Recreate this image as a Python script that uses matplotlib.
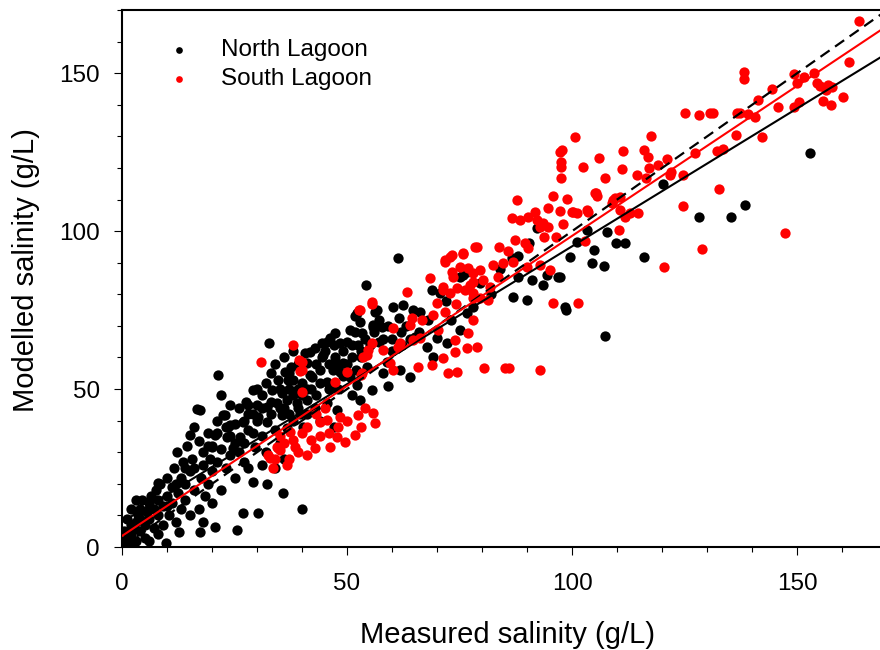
import numpy as np
import matplotlib.pyplot as plt
from matplotlib.ticker import MultipleLocator

plt.rcParams['font.family'] = ['Liberation Sans', 'DejaVu Sans']

# North Lagoon (measured, modelled) in g/L
north = [
    (0.5,1),(1,2.5),(1.5,0.5),(2,4),(2.5,6),(3,2),(3,8),(3.5,10),(4,5),(4,12),(4.5,15),(5,7),(5,3),
    (5.5,11),(6,14),(6,9),(6.5,16),(7,6),(7,12),(7.5,18),(8,10),(8,15),(8.5,20),(9,7),(9,13),(9.8,1.3),
    (10,16),(10,22),(1,9),(2,12),(3,15),(0.5,5),(6,2),(8,4),(2.5,1),
    (10.5,10),(11,14),(11,19),(11.5,25),(12,8),(12.2,30),(12.6,4.7),(12.5,17),(13,12),(13,22),(13.5,27),
    (14,15),(14,20),(14.5,32),(15,10),(15,24),(15,35.4),(15.5,28),(16,18),(16,38),(16.7,43.7),(17,33.5),
    (17,12),(17.3,4.7),(17.5,22),(18,26),(18,30),(18.5,16),(19,36),(19,20),(19.5,28),(20,32),(20,24),
    (20,14),(17.3,43.4),(8,20.3),(18,8),
    (20.7,6.3),(20.7,35.4),(21,40),(21,27),(21.4,54.4),(22,18),(22,31),(22.5,41.8),(22.9,41.8),(23,25),
    (23.3,34.8),(23.5,38),(24,38.6),(24,29),(24.7,31.3),(25,39),(25,22),(25.5,5.4),(26,44),(26.2,34.8),
    (26.8,10.8),(26.9,39.6),(27,27),(27,33),(27.5,46),(28,37),(28,42),(28,25),(29,20.6),(29.1,36),
    (29,49.7),(29.6,31.6),(30,40),(30,45),(30.3,10.7),(30.3,41.1),(20,31.6),(24,45),(22,48),
    (32.3,20),(32.2,44.3),(32.2,39.6),(32.7,64.5),(33.3,49.7),(34.4,45.6),(34.7,52.8),(35.6,48.7),
    (35.6,41.8),(35.8,17),(36.2,55.4),(36.7,46.5),(36.7,37.6),(36.9,52.8),(38.9,45.6),(31,35),(31,48),
    (32,30),(33,42),(33,55),(34,37),(34,58),(35,33),(35,44),(36,60),(37,42),(37,50),(37.5,57),(38,40),
    (38,48),(38,53),(39,50),(39,58),(39.5,42),(40,12),(40,48),(40,52),(40.2,38),(31,26),(34,25),(36,28),
    (40.7,61.4),(41.1,58.2),(41.1,46.5),(41.8,61.7),(41.8,54.4),(42.2,53.8),(42.9,63),(42.9,44),(44,56),
    (44.4,64.6),(44.4,60.1),(44.7,60.8),(45.5,64.9),(45.5,52.2),(45.5,45.6),(46.2,66.1),(46.9,56),
    (47.3,67.7),(47.3,60.1),(47.7,43.4),(48.4,64.6),(48.4,55.4),(49.1,58.2),(42,50),(43,48),(46,50),
    (48,50),(49,62),(50,65),(44,40),(41,42),(47,38),
    (50.7,68.7),(50.7,53.8),(51.1,48.1),(51.8,73.1),(51.8,68),(52.2,74),(52.2,51.3),(52.4,63.9),
    (52.9,71.2),(52.9,46.5),(53.3,67.7),(54.2,82.9),(54.4,57),(55.6,49.7),(55.8,69.6),(55.8,70.3),
    (56.2,74.4),(56.7,75),(57.8,69.6),(58.9,58.5),(59.1,51),(51,60),(53,62),(57,65),(58,55),(60,62),
    (60.2,76),(61.3,91.5),(61.6,72.5),(61.8,56),(62.2,63.9),(62.4,76.6),(64,53.8),(64.7,75),(65.1,66.5),
    (66.2,74.4),(67.8,63.3),(68.9,81.3),(69.1,60.1),(70,66.1),(70.7,80.4),(72.2,64.6),(75.1,68.7),
    (75.1,85.4),(75.8,86),(76.7,74),(76.7,87),(79.6,83.5),(63,70),(66,68),(68,72),(72,78),(73,72),(78,76),
    (86.7,91.5),(86.9,79.1),(88,85.4),(90,78.2),(90.4,96.2),(91.1,84.5),(92.2,101),(93.6,82.9),(94.4,86),
    (96.9,85.4),(97.3,85.5),(98.4,76),(98.6,75),(99.6,91.8),(101.1,96.5),(103.3,100.3),(104.5,89.8),
    (104.9,94),(107.1,89),(107.2,66.8),(107.8,99.7),(109.8,96.2),(111.8,96.2),(82,80),(84,88),(88,92),
    (116,91.8),(120.2,114.9),(128.2,104.4),(135.3,104.4),(138.4,108.2),(152.9,124.7),
    # denser band
    (30,50),(31,44),(32,52),(33,46),(35,50),(36,44),(37,55),(38,62),(39,44),(41,50),(43,58),(44,52),
    (45,62),(46,58),(47,64),(48,58),(49,54),(50,58),(51,64),(52,56),(53,60),(54,66),(55,64),(56,68),
    (57,72),(58,66),(59,70),(60,66),(62,68),(64,66),(25,33),(26,30),(23,38),(27,40),(28,45),(29,42),
    (24,35),(21,36),(19,32),(16,25),(14,25),(12,20),(10,13),(6,12),(4,9),(2,7),
]

# South Lagoon
south = [
    (30.8,58.6),(32.9,28.1),(33.6,25),(34.4,31.6),(35.1,30.7),(36.7,26),(32.5,29.1),(34.7,31.3),(38,33.9),
    (37.3,36.4),(38.4,31.6),(42.9,31.3),(46.2,31.6),(47.7,34.8),(49.6,33.2),(51.8,35.4),(44,39.6),
    (45.5,40.2),(48.4,41.1),(52.4,41.8),(55.8,42.4),(56.2,39.2),(38,64),(39.3,59.2),(39.5,55.8),(40,49),
    (40,58.5),(40,56),(47.3,52.3),(50,55.4),(53,54.4),(53.3,55.1),(52.9,75),(55.5,77),(52.7,75),
    (55.6,77.5),(34,28),(36,33),(40,36),(42,34),(44,35),
    (41,38),(43,42),(45,44),(46,36),(48,38),(50,40),(53,38),(54,44),(39,30),(41,29),(37,28),(35,35),
    (53.6,60.1),(54.4,60.8),(54.7,62.3),(55.6,64.6),(58,62.3),(59.6,58.2),(60.2,56),(60.2,69.3),
    (61.3,63.3),(61.8,64.6),(63.3,80.7),(64,70.3),(64.4,72.5),(64.7,65.5),(65.8,57),(66.2,66.1),
    (66.7,71.8),(68.4,85.1),(68.9,57.6),(69.1,73.4),(70,77.2),(70.2,68.7),(71.3,81.3),(71.3,59.8),
    (71.8,90.2),(71.8,74.4),(72.4,55.1),(73.3,92.4),(73.3,87),(74,65.5),(74,61.7),(74.4,81.9),(75.8,93),
    (76.7,63),(76.9,67.7),(77.3,82.9),(78,78.8),(78,71.8),(78.4,95),(78.9,63.3),(71.8,90.8),(72.9,91.8),
    (75.8,92.7),(78.9,94.9),(71.3,82.3),(72.9,80.4),(73.6,85.4),(74.2,76.9),(75.1,88.6),(76.2,81.3),
    (76.9,88.3),(78,86.7),(78,83.9),(78,80.4),(79.6,87.7),(79.6,78.8),(80.2,84.5),(74.4,55.4),(80.5,56.6),
    (81.3,78.2),(81.8,82.3),(82.4,89.2),(83.6,85.4),(83.8,94.9),(84.7,89.9),(85,56.6),(86,56.6),
    (85.8,93.7),(86.7,104.1),(86.9,90.2),(87.3,97.2),(87.7,109.8),(88.4,103.5),(89.6,96.2),(90,88.6),
    (90.2,104.4),(90.2,94.6),(91.8,106),(92.2,103.5),(92.9,89.2),(92.9,101.3),(92.9,56),(93.6,102.5),
    (93.8,98.1),(94.7,107.3),(94.7,101.3),(95.1,87.7),(95.8,111),(95.8,77.2),(96.4,98.1),(97.3,125),
    (97.3,106.3),(97.6,121.8),(97.6,120.2),(97.6,116.8),(98,102.2),(98.9,110.1),(97.7,125.6),
    (100,106),(100.3,106),(100.7,129.7),(101.1,105.7),(101.3,77.2),(102.4,120.3),(102.9,96.8),
    (103.3,106.6),(103.6,106),(105.1,112),(105.3,112),(105.5,111),(106,123.1),(107.2,116.8),(108.9,108.9),
    (109.1,109.8),(109.6,110.4),(110.5,100.3),(110.7,110.8),(110.7,106.6),(111.1,119.6),(111.3,125.3),
    (111.8,104.4),(112.9,105.7),(114.4,117.7),(114.7,105.7),(116,125.6),(116.4,116.8),(116.9,123.4),
    (117.1,119.9),(117.6,130),(119.1,120.9),(120.5,88.7),(121.1,122.8),(121.8,117.7),(122,118.7),
    (124.7,117.7),(124.7,108),
    (125.1,137.3),(127.3,124.7),(128.2,136.7),(128.9,94.3),(130.7,137.3),(131.4,137.3),(132.2,125.3),
    (132.7,113.3),(133.6,125.9),(136.4,130.4),(136.7,137.3),(137.3,137.3),(138.2,150.3),(138.2,148),
    (139.1,137),(140.7,136.1),(141.4,141.5),(142.2,129.7),(144.4,144.9),(145.7,139.2),(147.3,99.4),
    (149.3,149.7),(149.3,139.2),(150,146.8),(150.4,140.8),(151.6,148.8),(153.8,150),(154.4,147),
    (155,145.9),(155.8,141.1),(156.4,144.6),(156.9,146.2),(157.6,139.9),(157.7,145.6),(160.2,142.4),
    (161.6,153.5),(163.8,166.5),
]

# fitted lines: intercept, slope
north_fit = (7.9, 0.873)
south_fit = (3.5, 0.95)

north = np.array(north)
south = np.array(south)

fig = plt.figure(figsize=(8.8, 6.5), dpi=100)
ax = fig.add_axes([122/880, 103/650, 758/880, 537/650])

ax.scatter(north[:, 0], north[:, 1], s=55, c='black', linewidths=0, label='North Lagoon', zorder=2)
ax.scatter(south[:, 0], south[:, 1], s=55, c='#ff0000', linewidths=0, label='South Lagoon', zorder=3)

xx = np.array([0, 170])
ax.plot(xx, xx, color='black', lw=1.6, dashes=(5, 3), zorder=4)
ax.plot(xx, north_fit[0] + north_fit[1]*xx, color='black', lw=1.5, zorder=5)
ax.plot(xx, south_fit[0] + south_fit[1]*xx, color='#ff0000', lw=1.5, zorder=6)

ax.set_xlim(0, 168.4)
ax.set_ylim(0, 170)
ax.set_xticks([0, 50, 100, 150])
ax.set_yticks([0, 50, 100, 150])
ax.xaxis.set_minor_locator(MultipleLocator(10))
ax.yaxis.set_minor_locator(MultipleLocator(10))
ax.tick_params(which='major', direction='out', length=6, width=0.8, labelsize=17.5)
ax.tick_params(axis='x', which='major', pad=13)
ax.tick_params(axis='y', which='major', pad=10)
ax.tick_params(which='minor', direction='out', length=3.8, width=0.8)
ax.spines['right'].set_visible(False)
for s in ['left', 'bottom', 'top']:
    ax.spines[s].set_linewidth(1.5)

ax.set_xlabel('Measured salinity (g/L)', fontsize=21)
ax.set_ylabel('Modelled salinity (g/L)', fontsize=21)
ax.xaxis.set_label_coords(0.508, -0.138)
ax.yaxis.set_label_coords(-0.108, 0.515)

ax.legend(loc='upper left', bbox_to_anchor=(0.03, 0.964), frameon=False, fontsize=17.5,
          markerscale=0.65, handletextpad=0.75, labelspacing=0.3, borderaxespad=0)

fig.savefig('out.png', dpi=100)
